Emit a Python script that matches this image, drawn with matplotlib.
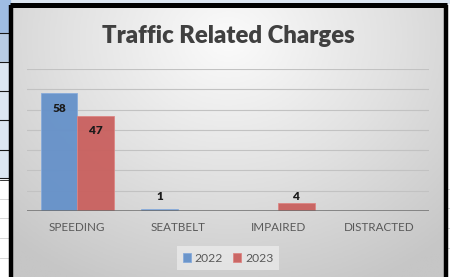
import numpy as np
import matplotlib
matplotlib.use("Agg")
import matplotlib.pyplot as plt
from matplotlib.patches import Rectangle
from matplotlib.colors import LinearSegmentedColormap

categories = ["SPEEDING", "SEATBELT", "IMPAIRED", "DISTRACTED"]
series_names = ["2022", "2023"]
values_2022 = [58, 1, 0, 0]
values_2023 = [47, 0, 4, 0]
title = "Traffic Related Charges"
y_max = 70
y_step = 10

W, H = 450, 277
fig = plt.figure(figsize=(W / 100, H / 100), dpi=100)

def fx(px):
    return px / W

def fy(py):
    return 1 - py / H

# --- spreadsheet background (screenshot surroundings) ---
bg = fig.add_axes([0, 0, 1, 1])
bg.set_xlim(0, W)
bg.set_ylim(H, 0)
bg.axis("off")
bg.add_patch(Rectangle((0, 0), W, H, color="white"))
bg.add_patch(Rectangle((0, 0), W, 3, color="#dbe5f1"))
row_edges = [0, 33, 62, 91, 120, 150, 178]
row_cols = ["#9fbde3", "#b8cce4", "#dce6f1", "#dce6f1", "#dce6f1", "#dce6f1"]
for (a, b), c in zip(zip(row_edges[:-1], row_edges[1:]), row_cols):
    bg.add_patch(Rectangle((0, a), 10, b - a, color=c))
    bg.plot([0, 10], [b, b], color="#1a1a1a", lw=0.8)
bg.plot([0, 10], [180, 180], color="#1a1a1a", lw=0.6)
for yy in [199, 218, 238, 258]:
    bg.plot([0, 10], [yy, yy], color="#d0d0d0", lw=0.6)
    bg.plot([447, 450], [yy - 10, yy - 10], color="#d0d0d0", lw=0.6)

# chart area with radial gradient
gx, gy = np.meshgrid(np.linspace(0, 1, 300), np.linspace(0, 1, 200))
r = np.sqrt(((gx - 0.5) / 0.75) ** 2 + ((gy - 0.12) / 1.0) ** 2)
r = np.clip(r, 0, 1)
cmap = LinearSegmentedColormap.from_list("g", ["#fbfbfb", "#e2e2e2", "#c6c6c6"])
bg.imshow(r, cmap=cmap, extent=(12, 445, 280, 6), aspect="auto", zorder=1, vmin=0, vmax=1)
# frame border
bg.plot([11, 11], [5, 280], color="black", lw=3.2, zorder=3, solid_capstyle="butt")
bg.plot([445.5, 445.5], [5, 280], color="black", lw=3.2, zorder=3, solid_capstyle="butt")
bg.plot([9.5, 447], [5, 5], color="black", lw=3.6, zorder=3, solid_capstyle="butt")

# --- chart axes ---
ax = fig.add_axes([fx(27), fy(211), fx(429 - 27), fy(69) - fy(211)])
ax.patch.set_alpha(0)
x = np.arange(len(categories))
bw = 0.3636
b1 = ax.bar(x - bw / 2, values_2022, bw, color="#6591c9", edgecolor="#86aadb", lw=0.6,
            label=series_names[0], zorder=2, alpha=0.95)
b2 = ax.bar(x + bw / 2, values_2023, bw, color="#c9605e", edgecolor="#dd8482", lw=0.6,
            label=series_names[1], zorder=2, alpha=0.95)
ax.set_xlim(-0.5, len(categories) - 0.5)
ax.set_ylim(0, y_max)
for yv in np.arange(y_step, y_max + 1, y_step):
    ax.axhline(yv, color="#c2c2c2", lw=0.8, zorder=1)
ax.axhline(0, color="#6e6e6e", lw=1.8, zorder=3)
for s in ax.spines.values():
    s.set_visible(False)
ax.set_yticks([])
ax.set_xticks(x)
ax.set_xticklabels(categories, fontsize=8.4, color="#595959", family="Lato")
ax.tick_params(axis="x", length=0, pad=8)

for bars in (b1, b2):
    for rect in bars:
        v = rect.get_height()
        if v <= 0:
            continue
        cx = rect.get_x() + rect.get_width() / 2
        ypos = max(v - 7.4, 7.0)
        ax.text(cx, ypos, f"{v:g}", ha="center", va="center", fontsize=8.5,
                fontweight="heavy", color="#1a1a1a", family="Lato", zorder=4)

fig.text(fx(228), fy(36), title, ha="center", va="center", fontsize=17.2,
         fontweight="heavy", color="#404040", family="Lato")

leg = fig.legend(handles=[b1, b2], labels=series_names, loc="center",
                 bbox_to_anchor=(fx(228), fy(258)), ncol=2, frameon=True,
                 prop={"family": "Lato", "size": 8.7}, handlelength=0.7, handleheight=0.7,
                 handletextpad=0.3, columnspacing=0.8, borderpad=0.5, fancybox=False)
leg.get_frame().set_facecolor("#f2f2f2")
leg.get_frame().set_alpha(0.6)
leg.get_frame().set_edgecolor("none")
for t in leg.get_texts():
    t.set_color("#595959")

fig.savefig("out.png", dpi=100)
